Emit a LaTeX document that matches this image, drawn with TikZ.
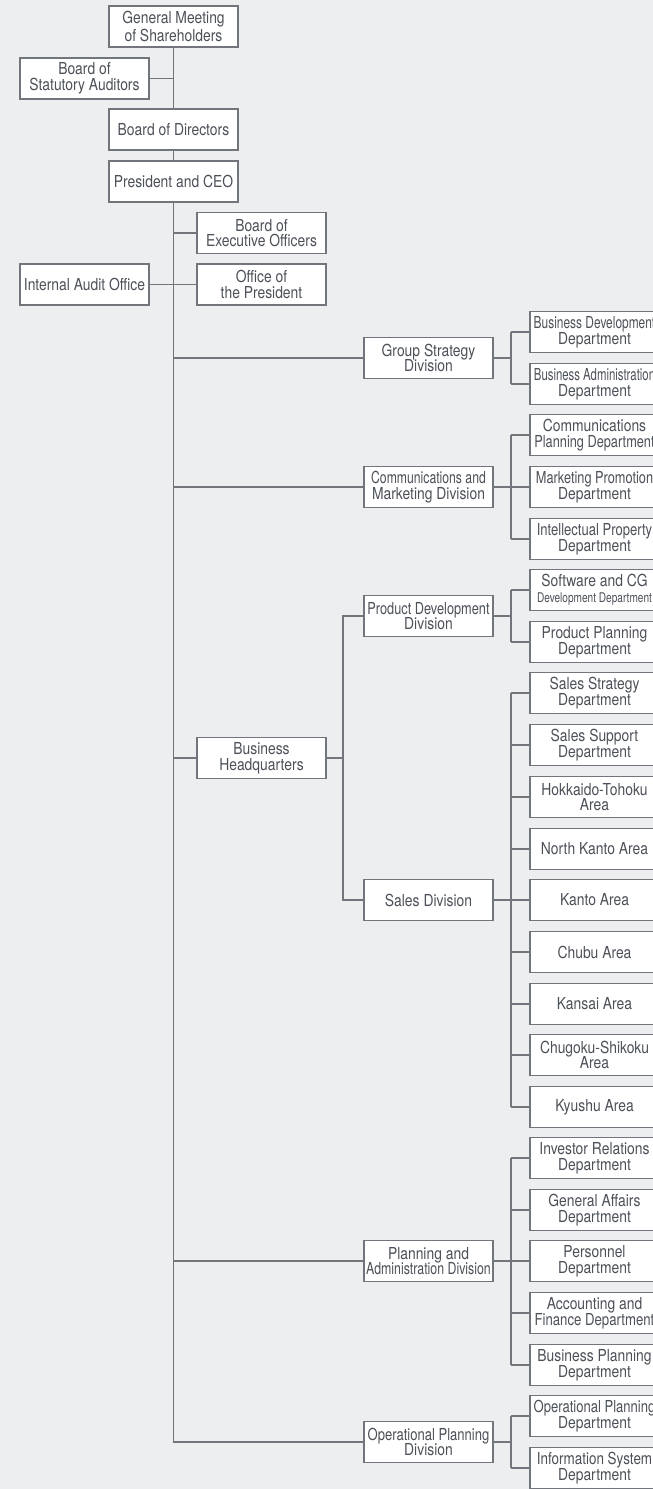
\documentclass[tikz,border=0pt]{standalone}
\usepackage{graphicx}
\usepackage{fontspec}
\setmainfont{TeX Gyre Heros}[FakeStretch=0.84]
\definecolor{bgc}{HTML}{EDEEF0}
\definecolor{linec}{HTML}{72767C}
\definecolor{textc}{HTML}{4C5158}
\newcommand{\hsq}[2]{\scalebox{#1}[1]{#2}}
\begin{document}
\begin{tikzpicture}[x = 0.02cm, y = -0.02cm,
  box/.style = {draw = linec, fill = white, line width = 0.65pt,
    minimum width = 2.58cm, minimum height = 0.82cm, inner sep = 0pt,
    align = center, text = textc, font = \fontsize{9.4}{9}\selectfont},
  link/.style = {draw = linec, line width = 0.65pt}]
\useasboundingbox (0,0) rectangle (653,1489);
\fill [bgc] (0,0) rectangle (653,1489);
% top of the tree
\node [box] (gm) at (173.5,26.5) {General Meeting\\of Shareholders};
\node [box] (bsa) at (84.5,78.5) {Board of\\Statutory Auditors};
\node [box] (bod) at (173.5,129.5) {Board of Directors};
\node [box] (ceo) at (173.5,181.5) {President and CEO};
\node [box] (beo) at (261.5,233) {Board of\\Executive Officers};
\node [box] (otp) at (261.5,284.5) {Office of\\the President};
\node [box] (iao) at (84.5,284.5) {Internal Audit Office};
\node [box] (bhq) at (261.5,758) {Business\\Headquarters};
% divisions
\node [box] (gsd) at (428.5,358) {Group Strategy\\Division};
\node [box] (cmd) at (428.5,487) {\hsq{0.88}{Communications and}\\Marketing Division};
\node [box] (pdd) at (428.5,616) {\hsq{0.92}{Product Development}\\Division};
\node [box] (sd) at (428.5,900) {Sales Division};
\node [box] (pad) at (428.5,1261) {Planning and\\\hsq{0.89}{Administration Division}};
\node [box] (opd) at (428.5,1442) {\hsq{0.94}{Operational Planning}\\Division};
% departments
\foreach \n/\y/\t in {
  bdd/332/{\hsq{0.86}{Business Development}\\Department},
  bad/384/{\hsq{0.82}{Business Administration}\\Department},
  cpd/435/{Communications\\\hsq{0.92}{Planning Department}},
  mpd/487/{\hsq{0.92}{Marketing Promotion}\\Department},
  ipd/539/{\hsq{0.94}{Intellectual Property}\\Department},
  scg/590/{Software and CG\\\hsq{0.9}{\fontsize{7.6}{9}\selectfont Development Department}},
  ppd/642/{Product Planning\\Department},
  ssd/693/{Sales Strategy\\Department},
  spd/745/{Sales Support\\Department},
  hta/797/{Hokkaido-Tohoku\\Area},
  nka/849/{North Kanto Area},
  kta/900/{Kanto Area},
  cba/952/{Chubu Area},
  ksa/1004/{Kansai Area},
  csa/1055/{Chugoku-Shikoku\\Area},
  kya/1107/{Kyushu Area},
  ird/1158/{Investor Relations\\Department},
  gad/1210/{General Affairs\\Department},
  prd/1261/{Personnel\\Department},
  afd/1313/{Accounting and\\\hsq{0.95}{Finance Department}},
  bpd/1365/{Business Planning\\Department},
  opl/1416/{\hsq{0.94}{Operational Planning}\\Department},
  isd/1468/{\hsq{0.97}{Information System}\\Department}}
  \node [box] (\n) at (594.5,\y) {\t};
% main line
\draw [link] (gm) -- (bod);
\draw [link] (bod) -- (ceo);
\draw [link] (ceo) -- (ceo |- opd.west) -- (opd.west);
\draw [link] (bsa) -- (bsa -| gm);
\draw [link] (beo) -- (beo -| ceo);
\draw [link] (iao) -- (otp);
\foreach \v in {gsd,cmd,pad,bhq}
  \draw [link] (\v.west) -- (\v.west -| ceo);
% headquarters
\coordinate (bhq-j) at (343,758);
\draw [link] (bhq) -- (bhq-j);
\draw [link] (pdd.west) -| (bhq-j) |- (sd.west);
% division to departments
\foreach \v/\y in {gsd/358,cmd/487,pdd/616,sd/900,pad/1261,opd/1442} {
  \coordinate (\v-j) at (511,\y);
  \draw [link] (\v) -- (\v-j);
}
\foreach \j/\a/\b in {gsd/bdd/bad,cmd/cpd/ipd,pdd/scg/ppd,sd/ssd/kya,pad/ird/bpd,opd/opl/isd}
  \draw [link] (\a.west -| \j-j) -- (\b.west -| \j-j);
\foreach \j/\d in {gsd/bdd,gsd/bad,cmd/cpd,cmd/mpd,cmd/ipd,pdd/scg,pdd/ppd,
  sd/ssd,sd/spd,sd/hta,sd/nka,sd/kta,sd/cba,sd/ksa,sd/csa,sd/kya,
  pad/ird,pad/gad,pad/prd,pad/afd,pad/bpd,opd/opl,opd/isd}
  \draw [link] (\d.west -| \j-j) -- (\d.west);
\end{tikzpicture}
\end{document}
